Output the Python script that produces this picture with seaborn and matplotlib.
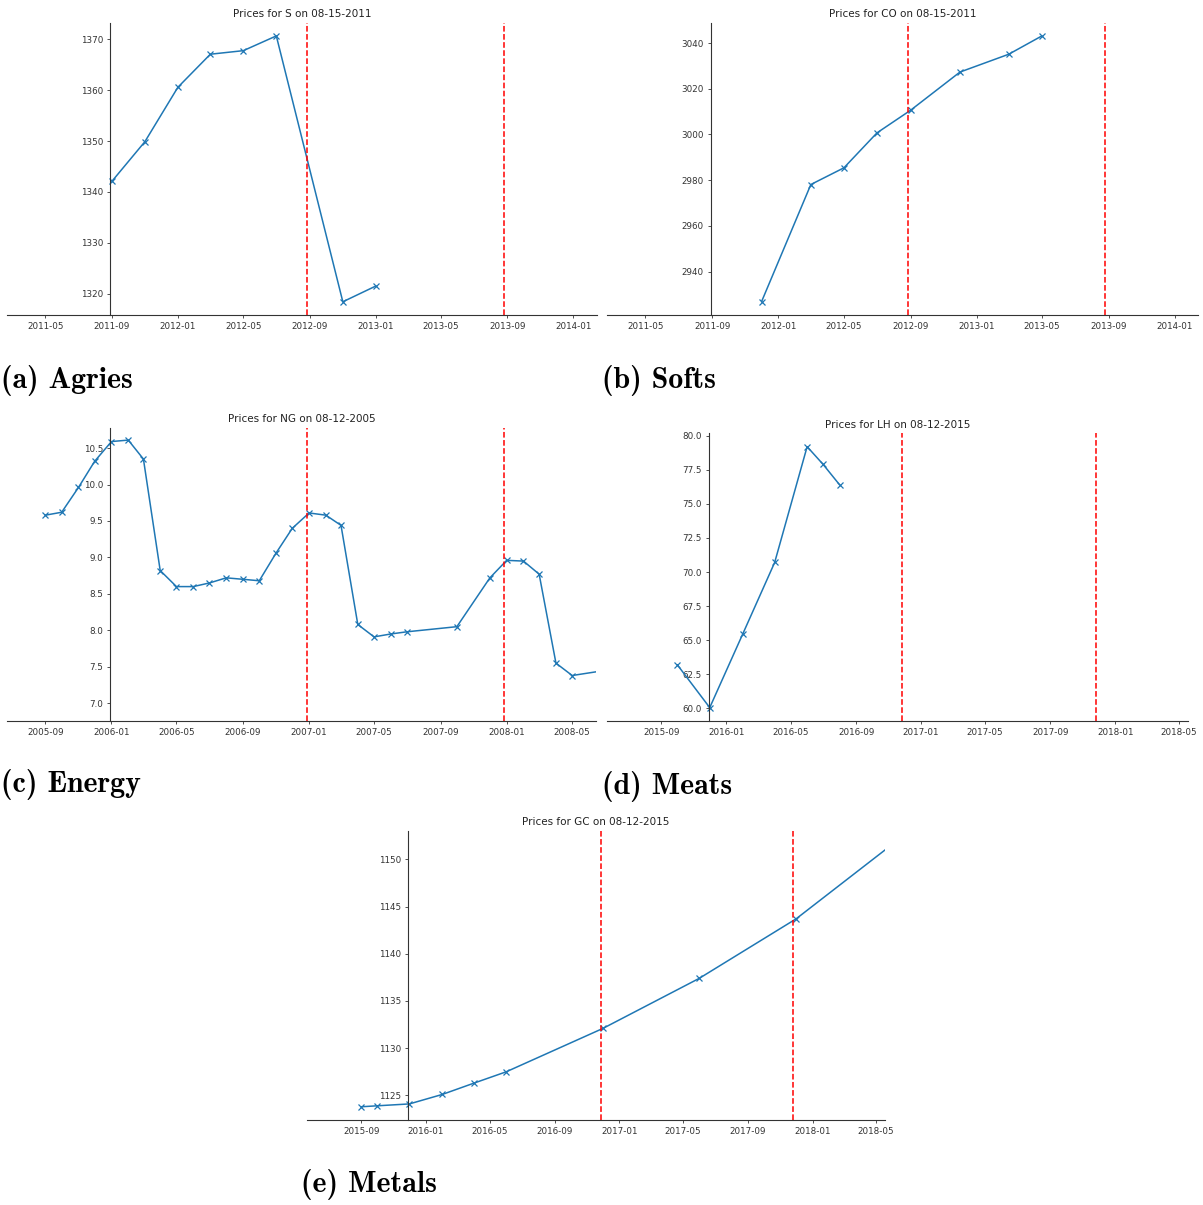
import matplotlib
matplotlib.use("Agg")
import matplotlib.pyplot as plt
import matplotlib.dates as mdates
from matplotlib.ticker import MultipleLocator
import seaborn as sns
import pandas as pd

sns.set_theme(style="ticks")
plt.rcParams["font.family"] = ["DejaVu Sans"]

# ---- price series (monthly contract settlements) ----
s_dates = ["2011-09-01", "2011-11-01", "2012-01-01", "2012-03-01", "2012-05-01",
           "2012-07-01", "2012-11-01", "2013-01-01"]
s_prices = [1342.1, 1349.9, 1360.6, 1367.1, 1367.8, 1370.7, 1318.4, 1321.5]

co_dates = ["2011-12-01", "2012-03-01", "2012-05-01", "2012-07-01", "2012-09-01",
            "2012-12-01", "2013-03-01", "2013-05-01"]
co_prices = [2926.8, 2978.1, 2985.4, 3000.7, 3010.6, 3027.3, 3035.1, 3043.1]

ng_dates = ["2005-09-01", "2005-10-01", "2005-11-01", "2005-12-01", "2006-01-01",
            "2006-02-01", "2006-03-01", "2006-04-01", "2006-05-01", "2006-06-01",
            "2006-07-01", "2006-08-01", "2006-09-01", "2006-10-01", "2006-11-01",
            "2006-12-01", "2007-01-01", "2007-02-01", "2007-03-01", "2007-04-01",
            "2007-05-01", "2007-06-01", "2007-07-01", "2007-10-01", "2007-12-01",
            "2008-01-01", "2008-02-01", "2008-03-01", "2008-04-01", "2008-05-01",
            "2008-07-01"]
ng_prices = [9.58, 9.62, 9.96, 10.32, 10.59, 10.61, 10.35, 8.82, 8.60, 8.60,
             8.65, 8.72, 8.70, 8.68, 9.06, 9.40, 9.61, 9.58, 9.44, 8.08,
             7.91, 7.95, 7.98, 8.05, 8.72, 8.96, 8.95, 8.77, 7.55, 7.38,
             7.45]

lh_dates = ["2015-10-01", "2015-12-01", "2016-02-01", "2016-04-01", "2016-06-01",
            "2016-07-01", "2016-08-01"]
lh_prices = [63.2, 60.05, 65.45, 70.7, 79.2, 77.9, 76.4]

gc_dates = ["2015-09-01", "2015-10-01", "2015-12-01", "2016-02-01", "2016-04-01",
            "2016-06-01", "2016-12-01", "2017-06-01", "2017-12-01", "2018-06-01"]
gc_prices = [1123.8, 1123.9, 1124.1, 1125.1, 1126.3, 1127.5, 1132.1, 1137.4,
             1143.7, 1151.6]

titles = ["Prices for S on 08-15-2011", "Prices for CO on 08-15-2011",
          "Prices for NG on 08-12-2005", "Prices for LH on 08-12-2015",
          "Prices for GC on 08-12-2015"]
captions = ["(a) Agries", "(b) Softs", "(c) Energy", "(d) Meats", "(e) Metals"]

BLUE = "#1f77b4"
W, H = 1203, 1205


def rect(left, right, top, bottom):
    return [left / W, 1 - bottom / H, (right - left) / W, (bottom - top) / H]


def draw(ax, dates, prices, title, anchor, xlim, ylim, ystep):
    df = pd.DataFrame({"date": pd.to_datetime(dates), "price": prices})
    sns.lineplot(data=df, x="date", y="price", ax=ax, marker="x",
                 color=BLUE, linewidth=1.1, markersize=4.5,
                 markeredgewidth=0.9, markeredgecolor=BLUE)
    a = pd.Timestamp(anchor)
    # one-year and two-year horizons (52 / 104 weeks after the anchor)
    for k in (1, 2):
        ax.axvline(a + pd.Timedelta(weeks=52 * k), color="red",
                   linestyle="--", linewidth=1.1)
    ax.set_xlim(pd.Timestamp(xlim[0]), pd.Timestamp(xlim[1]))
    ax.set_ylim(*ylim)
    ax.spines[["top", "right"]].set_visible(False)
    ax.spines["left"].set_position(("data", mdates.date2num(a)))
    for sp in ("left", "bottom"):
        ax.spines[sp].set_linewidth(0.8)
        ax.spines[sp].set_color("#333333")
    ax.xaxis.set_major_locator(mdates.MonthLocator(bymonth=(1, 5, 9)))
    ax.xaxis.set_major_formatter(mdates.DateFormatter("%Y-%m"))
    ax.yaxis.set_major_locator(MultipleLocator(ystep))
    ax.set_xlabel("")
    ax.set_ylabel("")
    ax.set_title(title, fontsize=7.5, pad=4, color="#222222")
    ax.tick_params(labelsize=6.3, length=2.5, width=0.6, pad=2.5,
                   colors="#333333")


fig = plt.figure(figsize=(W / 100, H / 100), dpi=100)

ax_a = fig.add_axes(rect(7, 597, 22.7, 315))
draw(ax_a, s_dates, s_prices, titles[0], "2011-08-29",
     ("2011-02-19", "2014-02-14"), (1315.8, 1373.3), 10)

ax_b = fig.add_axes(rect(607, 1198.5, 22.7, 315))
draw(ax_b, co_dates, co_prices, titles[1], "2011-08-29",
     ("2011-02-19", "2014-02-14"), (2921.0, 3048.9), 20)

ax_c = fig.add_axes(rect(7, 596, 427.7, 720.7))
draw(ax_c, ng_dates, ng_prices, titles[2], "2005-12-29",
     ("2005-06-22", "2008-06-14"), (6.76, 10.78), 0.5)

ax_d = fig.add_axes(rect(607, 1187.7, 433.3, 720.7))
draw(ax_d, lh_dates, lh_prices, titles[3], "2015-11-29",
     ("2015-05-22", "2018-05-17"), (59.09, 80.18), 2.5)

ax_e = fig.add_axes(rect(307.2, 884.5, 831, 1119.7))
draw(ax_e, gc_dates, gc_prices, titles[4], "2015-11-29",
     ("2015-05-22", "2018-05-17"), (1122.43, 1153.0), 5)

caption_pos = [(1, 380), (602, 380), (1, 785), (602, 786), (301, 1185)]
for text, (cx, cy) in zip(captions, caption_pos):
    fig.text(cx / W, 1 - cy / H, text, family="cmb10", fontsize=21.5,
             ha="left", va="center", color="black")

fig.savefig("out.png", dpi=100)
